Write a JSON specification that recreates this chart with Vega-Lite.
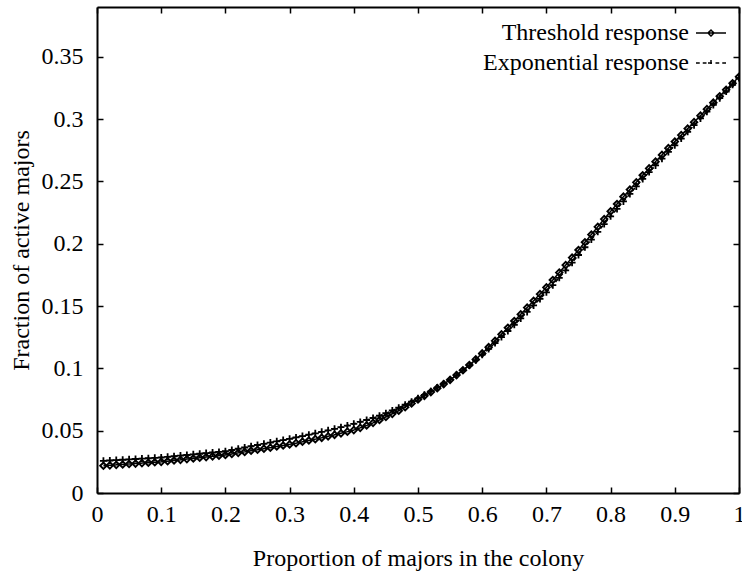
{
  "$schema": "https://vega.github.io/schema/vega-lite/v6.json",
  "width": 642,
  "height": 486,
  "autosize": {"type": "none"},
  "padding": {"left": 97, "top": 7, "right": 3, "bottom": 82},
  "background": "white",
  "config": {
    "font": "Liberation Serif",
    "view": {"stroke": null},
    "axis": {"labelFont": "Liberation Serif", "titleFont": "Liberation Serif", "labelFontSize": 24, "titleFontSize": 24, "titleFontWeight": "normal", "labelColor": "black", "titleColor": "black", "domainColor": "black", "tickColor": "black", "domainWidth": 2, "tickWidth": 1.5, "grid": false},
    "legend": {"labelFont": "Liberation Serif", "labelFontSize": 24, "labelColor": "black", "labelLimit": 400}
  },
  "data": {"values": [
    {"p":0.01,"Threshold response":0.0219,"Exponential response":0.0258},
    {"p":0.02,"Threshold response":0.0222,"Exponential response":0.0261},
    {"p":0.03,"Threshold response":0.0226,"Exponential response":0.0264},
    {"p":0.04,"Threshold response":0.0229,"Exponential response":0.0267},
    {"p":0.05,"Threshold response":0.0233,"Exponential response":0.0270},
    {"p":0.06,"Threshold response":0.0236,"Exponential response":0.0273},
    {"p":0.07,"Threshold response":0.0240,"Exponential response":0.0276},
    {"p":0.08,"Threshold response":0.0243,"Exponential response":0.0279},
    {"p":0.09,"Threshold response":0.0247,"Exponential response":0.0282},
    {"p":0.10,"Threshold response":0.0250,"Exponential response":0.0285},
    {"p":0.11,"Threshold response":0.0255,"Exponential response":0.0290},
    {"p":0.12,"Threshold response":0.0261,"Exponential response":0.0295},
    {"p":0.13,"Threshold response":0.0266,"Exponential response":0.0300},
    {"p":0.14,"Threshold response":0.0272,"Exponential response":0.0305},
    {"p":0.15,"Threshold response":0.0277,"Exponential response":0.0310},
    {"p":0.16,"Threshold response":0.0283,"Exponential response":0.0315},
    {"p":0.17,"Threshold response":0.0288,"Exponential response":0.0320},
    {"p":0.18,"Threshold response":0.0294,"Exponential response":0.0325},
    {"p":0.19,"Threshold response":0.0299,"Exponential response":0.0330},
    {"p":0.20,"Threshold response":0.0305,"Exponential response":0.0335},
    {"p":0.21,"Threshold response":0.0313,"Exponential response":0.0345},
    {"p":0.22,"Threshold response":0.0322,"Exponential response":0.0355},
    {"p":0.23,"Threshold response":0.0330,"Exponential response":0.0365},
    {"p":0.24,"Threshold response":0.0339,"Exponential response":0.0375},
    {"p":0.25,"Threshold response":0.0347,"Exponential response":0.0385},
    {"p":0.26,"Threshold response":0.0356,"Exponential response":0.0395},
    {"p":0.27,"Threshold response":0.0364,"Exponential response":0.0405},
    {"p":0.28,"Threshold response":0.0373,"Exponential response":0.0415},
    {"p":0.29,"Threshold response":0.0381,"Exponential response":0.0425},
    {"p":0.30,"Threshold response":0.0390,"Exponential response":0.0435},
    {"p":0.31,"Threshold response":0.0400,"Exponential response":0.0446},
    {"p":0.32,"Threshold response":0.0411,"Exponential response":0.0457},
    {"p":0.33,"Threshold response":0.0421,"Exponential response":0.0468},
    {"p":0.34,"Threshold response":0.0432,"Exponential response":0.0479},
    {"p":0.35,"Threshold response":0.0443,"Exponential response":0.0491},
    {"p":0.36,"Threshold response":0.0455,"Exponential response":0.0503},
    {"p":0.37,"Threshold response":0.0467,"Exponential response":0.0515},
    {"p":0.38,"Threshold response":0.0479,"Exponential response":0.0528},
    {"p":0.39,"Threshold response":0.0492,"Exponential response":0.0541},
    {"p":0.40,"Threshold response":0.0505,"Exponential response":0.0555},
    {"p":0.41,"Threshold response":0.0523,"Exponential response":0.0570},
    {"p":0.42,"Threshold response":0.0542,"Exponential response":0.0586},
    {"p":0.43,"Threshold response":0.0563,"Exponential response":0.0602},
    {"p":0.44,"Threshold response":0.0586,"Exponential response":0.0620},
    {"p":0.45,"Threshold response":0.0610,"Exponential response":0.0640},
    {"p":0.46,"Threshold response":0.0635,"Exponential response":0.0662},
    {"p":0.47,"Threshold response":0.0661,"Exponential response":0.0684},
    {"p":0.48,"Threshold response":0.0689,"Exponential response":0.0708},
    {"p":0.49,"Threshold response":0.0719,"Exponential response":0.0733},
    {"p":0.50,"Threshold response":0.0750,"Exponential response":0.0760},
    {"p":0.51,"Threshold response":0.0780,"Exponential response":0.0788},
    {"p":0.52,"Threshold response":0.0810,"Exponential response":0.0816},
    {"p":0.53,"Threshold response":0.0841,"Exponential response":0.0846},
    {"p":0.54,"Threshold response":0.0874,"Exponential response":0.0877},
    {"p":0.55,"Threshold response":0.0908,"Exponential response":0.0910},
    {"p":0.56,"Threshold response":0.0946,"Exponential response":0.0946},
    {"p":0.57,"Threshold response":0.0985,"Exponential response":0.0984},
    {"p":0.58,"Threshold response":0.1027,"Exponential response":0.1024},
    {"p":0.59,"Threshold response":0.1072,"Exponential response":0.1066},
    {"p":0.60,"Threshold response":0.1120,"Exponential response":0.1110},
    {"p":0.61,"Threshold response":0.1170,"Exponential response":0.1156},
    {"p":0.62,"Threshold response":0.1221,"Exponential response":0.1203},
    {"p":0.63,"Threshold response":0.1273,"Exponential response":0.1251},
    {"p":0.64,"Threshold response":0.1326,"Exponential response":0.1300},
    {"p":0.65,"Threshold response":0.1380,"Exponential response":0.1350},
    {"p":0.66,"Threshold response":0.1434,"Exponential response":0.1401},
    {"p":0.67,"Threshold response":0.1488,"Exponential response":0.1453},
    {"p":0.68,"Threshold response":0.1542,"Exponential response":0.1505},
    {"p":0.69,"Threshold response":0.1596,"Exponential response":0.1557},
    {"p":0.70,"Threshold response":0.1650,"Exponential response":0.1610},
    {"p":0.71,"Threshold response":0.1709,"Exponential response":0.1668},
    {"p":0.72,"Threshold response":0.1769,"Exponential response":0.1727},
    {"p":0.73,"Threshold response":0.1829,"Exponential response":0.1787},
    {"p":0.74,"Threshold response":0.1889,"Exponential response":0.1848},
    {"p":0.75,"Threshold response":0.1950,"Exponential response":0.1910},
    {"p":0.76,"Threshold response":0.2012,"Exponential response":0.1972},
    {"p":0.77,"Threshold response":0.2074,"Exponential response":0.2034},
    {"p":0.78,"Threshold response":0.2136,"Exponential response":0.2096},
    {"p":0.79,"Threshold response":0.2198,"Exponential response":0.2158},
    {"p":0.80,"Threshold response":0.2260,"Exponential response":0.2220},
    {"p":0.81,"Threshold response":0.2319,"Exponential response":0.2280},
    {"p":0.82,"Threshold response":0.2378,"Exponential response":0.2340},
    {"p":0.83,"Threshold response":0.2435,"Exponential response":0.2400},
    {"p":0.84,"Threshold response":0.2493,"Exponential response":0.2460},
    {"p":0.85,"Threshold response":0.2550,"Exponential response":0.2520},
    {"p":0.86,"Threshold response":0.2605,"Exponential response":0.2575},
    {"p":0.87,"Threshold response":0.2659,"Exponential response":0.2629},
    {"p":0.88,"Threshold response":0.2713,"Exponential response":0.2683},
    {"p":0.89,"Threshold response":0.2767,"Exponential response":0.2737},
    {"p":0.90,"Threshold response":0.2820,"Exponential response":0.2790},
    {"p":0.91,"Threshold response":0.2872,"Exponential response":0.2844},
    {"p":0.92,"Threshold response":0.2924,"Exponential response":0.2898},
    {"p":0.93,"Threshold response":0.2976,"Exponential response":0.2952},
    {"p":0.94,"Threshold response":0.3028,"Exponential response":0.3006},
    {"p":0.95,"Threshold response":0.3080,"Exponential response":0.3060},
    {"p":0.96,"Threshold response":0.3132,"Exponential response":0.3114},
    {"p":0.97,"Threshold response":0.3184,"Exponential response":0.3168},
    {"p":0.98,"Threshold response":0.3236,"Exponential response":0.3222},
    {"p":0.99,"Threshold response":0.3288,"Exponential response":0.3276},
    {"p":1.00,"Threshold response":0.3340,"Exponential response":0.3330}
  ]},
  "transform": [{"fold": ["Threshold response", "Exponential response"], "as": ["series", "value"]}],
  "layer": [
    {
      "mark": {"type": "line", "color": "black", "strokeWidth": 1.5, "clip": true},
      "encoding": {
        "x": {"field": "p", "type": "quantitative", "scale": {"domain": [0, 1], "nice": false},
              "axis": {"title": "Proportion of majors in the colony", "values": [0,0.1,0.2,0.3,0.4,0.5,0.6,0.7,0.8,0.9,1], "format": "~g", "tickSize": -6, "labelPadding": 15, "titlePadding": 20, "labelFlush": false}},
        "y": {"field": "value", "type": "quantitative", "scale": {"domain": [0, 0.39], "nice": false},
              "axis": {"title": "Fraction of active majors", "values": [0,0.05,0.1,0.15,0.2,0.25,0.3,0.35], "format": "~g", "tickSize": -6, "labelPadding": 20, "titlePadding": 8, "labelFlush": false}},
        "strokeDash": {"field": "series", "type": "nominal",
          "scale": {"domain": ["Threshold response", "Exponential response"], "range": [[1, 0], [4, 3]]},
          "legend": {"title": null, "orient": "top-right", "offset": 10, "symbolSize": 900, "symbolStrokeWidth": 1.5, "symbolStrokeColor": "black", "symbolFillColor": "transparent", "labelAlign": "right", "labelOffset": -38, "rowPadding": 2,
            "encode": {"symbols": {"update": {
              "shape": {"signal": "datum.value === 'Threshold response' ? 'M-1,0H1M0,-0.2L0.2,0L0,0.2L-0.2,0Z' : 'M-1,0H-0.75M-0.55,0H-0.3M0.3,0H0.55M0.75,0H1M0,-0.2V0.2M-0.2,0H0.2'"},
              "strokeDash": {"value": []},
              "stroke": {"value": "black"},
              "fill": {"value": "transparent"}
            }}}}
        }
      }
    },
    {
      "transform": [{"filter": "datum.series === 'Threshold response'"}],
      "mark": {"type": "point", "shape": "diamond", "filled": false, "color": "black", "strokeWidth": 1.9, "size": 42, "opacity": 1, "clip": true},
      "encoding": {
        "x": {"field": "p", "type": "quantitative", "axis": null},
        "y": {"field": "value", "type": "quantitative", "axis": null}
      }
    },
    {
      "transform": [{"filter": "datum.series === 'Exponential response'"}],
      "mark": {"type": "point", "shape": "M-1,0H1M0,-1V1", "filled": false, "color": "black", "strokeWidth": 1.8, "size": 49, "opacity": 1, "clip": true},
      "encoding": {
        "x": {"field": "p", "type": "quantitative", "axis": null},
        "y": {"field": "value", "type": "quantitative", "axis": null}
      }
    },
    {
      "mark": {"type": "point", "opacity": 0},
      "encoding": {
        "x": {"field": "p", "type": "quantitative", "axis": {"orient": "top", "title": null, "labels": false, "values": [0,0.1,0.2,0.3,0.4,0.5,0.6,0.7,0.8,0.9,1], "tickSize": -6}},
        "y": {"field": "value", "type": "quantitative", "axis": {"orient": "right", "title": null, "labels": false, "values": [0,0.05,0.1,0.15,0.2,0.25,0.3,0.35], "tickSize": -6}}
      }
    }
  ],
  "resolve": {"axis": {"x": "independent", "y": "independent"}}
}
